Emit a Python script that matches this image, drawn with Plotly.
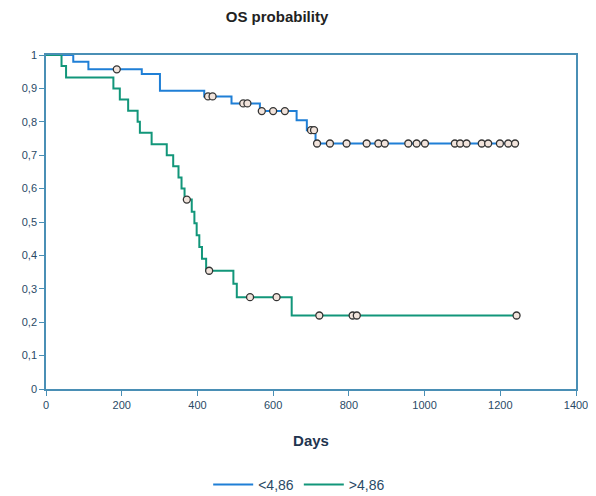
import plotly.graph_objects as go

# Kaplan-Meier step data (days, survival probability after event)
low_times = [0, 72, 112, 253, 301, 418, 490, 565, 662, 689, 712, 1239]
low_surv = [1.0, 0.98, 0.957, 0.943, 0.893, 0.876, 0.855, 0.832, 0.805, 0.775, 0.735, 0.735]
low_censor = [187, 428, 440, 521, 532, 570, 600, 631, 700, 708, 716, 750, 794, 847, 878,
              895, 957, 979, 1001, 1080, 1094, 1111, 1151, 1168, 1199, 1221, 1239]

high_times = [0, 41, 53, 178, 195, 217, 242, 248, 279, 319, 336, 350, 358, 366,
              385, 392, 398, 405, 412, 423, 495, 504, 649, 1243]
high_surv = [1.0, 0.967, 0.933, 0.9, 0.867, 0.833, 0.8, 0.767, 0.733, 0.7, 0.667, 0.633, 0.6, 0.567,
             0.531, 0.496, 0.46, 0.425, 0.39, 0.354, 0.315, 0.275, 0.22, 0.22]
high_censor = [372, 431, 539, 609, 722, 810, 821, 1243]

series_names = ["<4,86", ">4,86"]
y_ticks = [0, 0.1, 0.2, 0.3, 0.4, 0.5, 0.6, 0.7, 0.8, 0.9, 1]
y_tick_labels = ["0", "0,1", "0,2", "0,3", "0,4", "0,5", "0,6", "0,7", "0,8", "0,9", "1"]
x_ticks = [0, 200, 400, 600, 800, 1000, 1200, 1400]


def step_value(times, surv, t):
    v = surv[0]
    for ti, si in zip(times, surv):
        if ti <= t:
            v = si
    return v


BLUE = "#1f7fd6"
GREEN = "#12967a"
AXIS = "#4a8fb5"

fig = go.Figure()
for times, surv, cens, name, col in [
    (low_times, low_surv, low_censor, series_names[0], BLUE),
    (high_times, high_surv, high_censor, series_names[1], GREEN),
]:
    fig.add_trace(go.Scatter(x=times, y=surv, mode="lines", line_shape="hv",
                             line=dict(color=col, width=2), name=name))
    fig.add_trace(go.Scatter(x=cens, y=[step_value(times, surv, t) for t in cens],
                             mode="markers", showlegend=False, hoverinfo="skip",
                             marker=dict(symbol="circle", size=7, color="#f2e4dc",
                                         line=dict(color="#333333", width=1.3))))

fig.update_layout(
    width=588, height=488,
    paper_bgcolor="white", plot_bgcolor="white",
    margin=dict(l=38, r=20, t=47, b=107, autoexpand=False),
    font=dict(family="Liberation Sans, Arial, sans-serif", size=11, color="#2a4a66"),
    title=dict(text="<b>OS probability</b>", x=0.4575, xanchor="center", y=0.982, yanchor="middle",
               font=dict(size=15, color="#222222")),
    showlegend=True,
    legend=dict(orientation="h", x=0.306, xanchor="left", y=-0.287, yanchor="middle",
                font=dict(size=14, color="#2a4a66"), itemwidth=40, bgcolor="rgba(0,0,0,0)"),
)
fig.update_xaxes(range=[0, 1400], tickvals=x_ticks, ticks="outside", ticklen=5,
                 tickcolor=AXIS, showline=True, linecolor=AXIS, linewidth=1.5, mirror=True,
                 showgrid=False, zeroline=False, tickfont=dict(size=11), automargin=False,
                 title=dict(text="<b>Days</b>", font=dict(size=15, color="#1f3550"), standoff=26))
fig.update_yaxes(range=[0, 1], tickvals=y_ticks, ticktext=y_tick_labels, ticks="outside",
                 ticklen=5, tickcolor=AXIS, showline=True, linecolor=AXIS, linewidth=1.5,
                 mirror=True, showgrid=False, zeroline=False, tickfont=dict(size=11),
                 automargin=False)

fig.write_html("out.html")
